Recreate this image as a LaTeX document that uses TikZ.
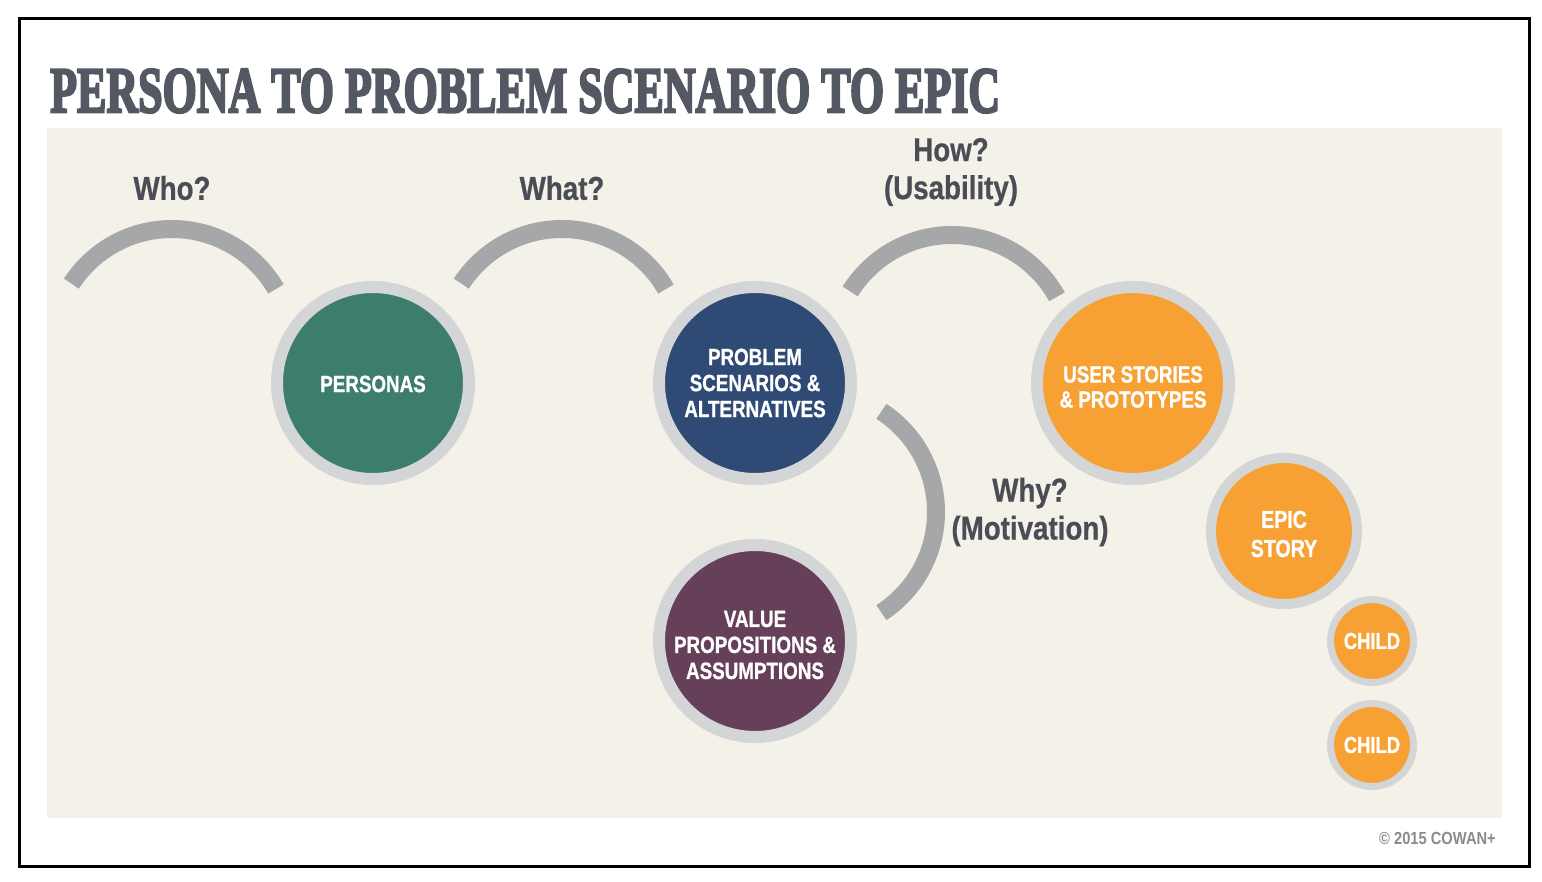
\documentclass[tikz,border=0pt]{standalone}
\usepackage{fontspec}
\usepackage{graphicx}
\setmainfont{Liberation Sans}
\font\titlefnt="Liberation Serif/B:embolden=4" at 60pt
\font\stagefnt="Liberation Sans/B:extend=0.8;embolden=1" at 23.5pt
\font\epicfnt="Liberation Sans/B:extend=0.8;embolden=1" at 24.5pt
\font\childfnt="Liberation Sans/B:extend=0.8;embolden=1" at 23pt
\font\questfnt="Liberation Sans/B:extend=0.84;embolden=0.6" at 33pt
\font\copyfnt="Liberation Sans/B:extend=0.84" at 17.5pt
\definecolor{beige}{HTML}{F4F1E8}
\definecolor{ringgray}{HTML}{D3D5D7}
\definecolor{arcgray}{HTML}{A6A7A9}
\definecolor{labelgray}{HTML}{4A4D55}
\definecolor{titlegray}{HTML}{535862}
\definecolor{copygray}{HTML}{8A8B8D}
\definecolor{pgreen}{HTML}{3D7D6C}
\definecolor{pnavy}{HTML}{2F4A74}
\definecolor{porange}{HTML}{F7A033}
\definecolor{pplum}{HTML}{663F59}
\begin{document}
\begin{tikzpicture}[x=1pt,y=-1pt,
  stage/.style={circle, draw=ringgray, inner sep=0pt},
  bigstage/.style={stage, minimum size=192pt, line width=12pt},
  midstage/.style={stage, minimum size=146pt, line width=10pt},
  smallstage/.style={stage, minimum size=83pt, line width=7pt},
  stagetext/.style={text=white, align=center, inner sep=0pt,
    font={\stagefnt\baselineskip=26pt}},
  qlabel/.style={text=labelgray, align=center, inner sep=0pt,
    font={\questfnt\baselineskip=38pt}},
  bow/.style={draw=arcgray, line width=18pt}]
\fill[white] (0,0) rectangle (1542,882);
\useasboundingbox (0,0) rectangle (1542,882);
\draw[line width=3pt] (19,19) rectangle (1529,866);
\fill[beige] (47,128) rectangle (1502,818);
\node[anchor=south west, inner sep=0pt, text=titlegray] (title) at (50,113)
  {\resizebox{950pt}{43pt}{\titlefnt PERSONA TO PROBLEM SCENARIO TO EPIC}};
% arcs
\coordinate (whoc) at (172,349);
\coordinate (whatc) at (562,349);
\coordinate (howc) at (952,355);
\coordinate (whyc) at (816,512);
\draw[bow] (whoc) ++(-30:120) arc[start angle=-30, end angle=-147, radius=120];
\draw[bow] (whatc) ++(-30:120) arc[start angle=-30, end angle=-147, radius=120];
\draw[bow] (howc) ++(-29:120) arc[start angle=-29, end angle=-148, radius=120];
\draw[bow] (whyc) ++(-57:120) arc[start angle=-57, end angle=57, radius=120];
% labels
\node[qlabel] (who) at (172,188) {Who?};
\node[qlabel] (what) at (562,188) {What?};
\node[qlabel] (how) at (951,172) {How?\\(Usability)};
\node[qlabel] (why) at (1030,512) {Why?\\(Motivation)};
% stages
\node[bigstage, fill=pgreen] (personas) at (373,383) {};
\node[bigstage, fill=pnavy] (problem) at (755,383) {};
\node[bigstage, fill=porange] (stories) at (1133,383) {};
\node[bigstage, fill=pplum] (value) at (755,641) {};
\node[midstage, fill=porange] (epic) at (1284,531) {};
\node[smallstage, fill=porange] (childa) at (1372,641) {};
\node[smallstage, fill=porange] (childb) at (1372,745) {};
\node[stagetext] (personastext) at ([yshift=-1pt]personas.center) {PERSONAS};
\node[stagetext] (problemtext) at (problem.center) {PROBLEM\\SCENARIOS \&\\ALTERNATIVES};
\node[stagetext, font={\stagefnt\baselineskip=25pt}] (storiestext) at ([yshift=-4pt]stories.center) {USER STORIES\\\& PROTOTYPES};
\node[stagetext] (valuetext) at ([yshift=-4pt]value.center) {VALUE\\PROPOSITIONS \&\\ASSUMPTIONS};
\node[stagetext, font={\epicfnt\baselineskip=29pt}] (epictext) at ([yshift=-3pt]epic.center) {EPIC\\STORY};
\node[stagetext, font=\childfnt] (childatext) at (childa.center) {CHILD};
\node[stagetext, font=\childfnt] (childbtext) at (childb.center) {CHILD};
\node[anchor=east, inner sep=0pt, text=copygray, font=\copyfnt] (copy) at (1496,838) {© 2015 COWAN+};
\end{tikzpicture}
\end{document}
